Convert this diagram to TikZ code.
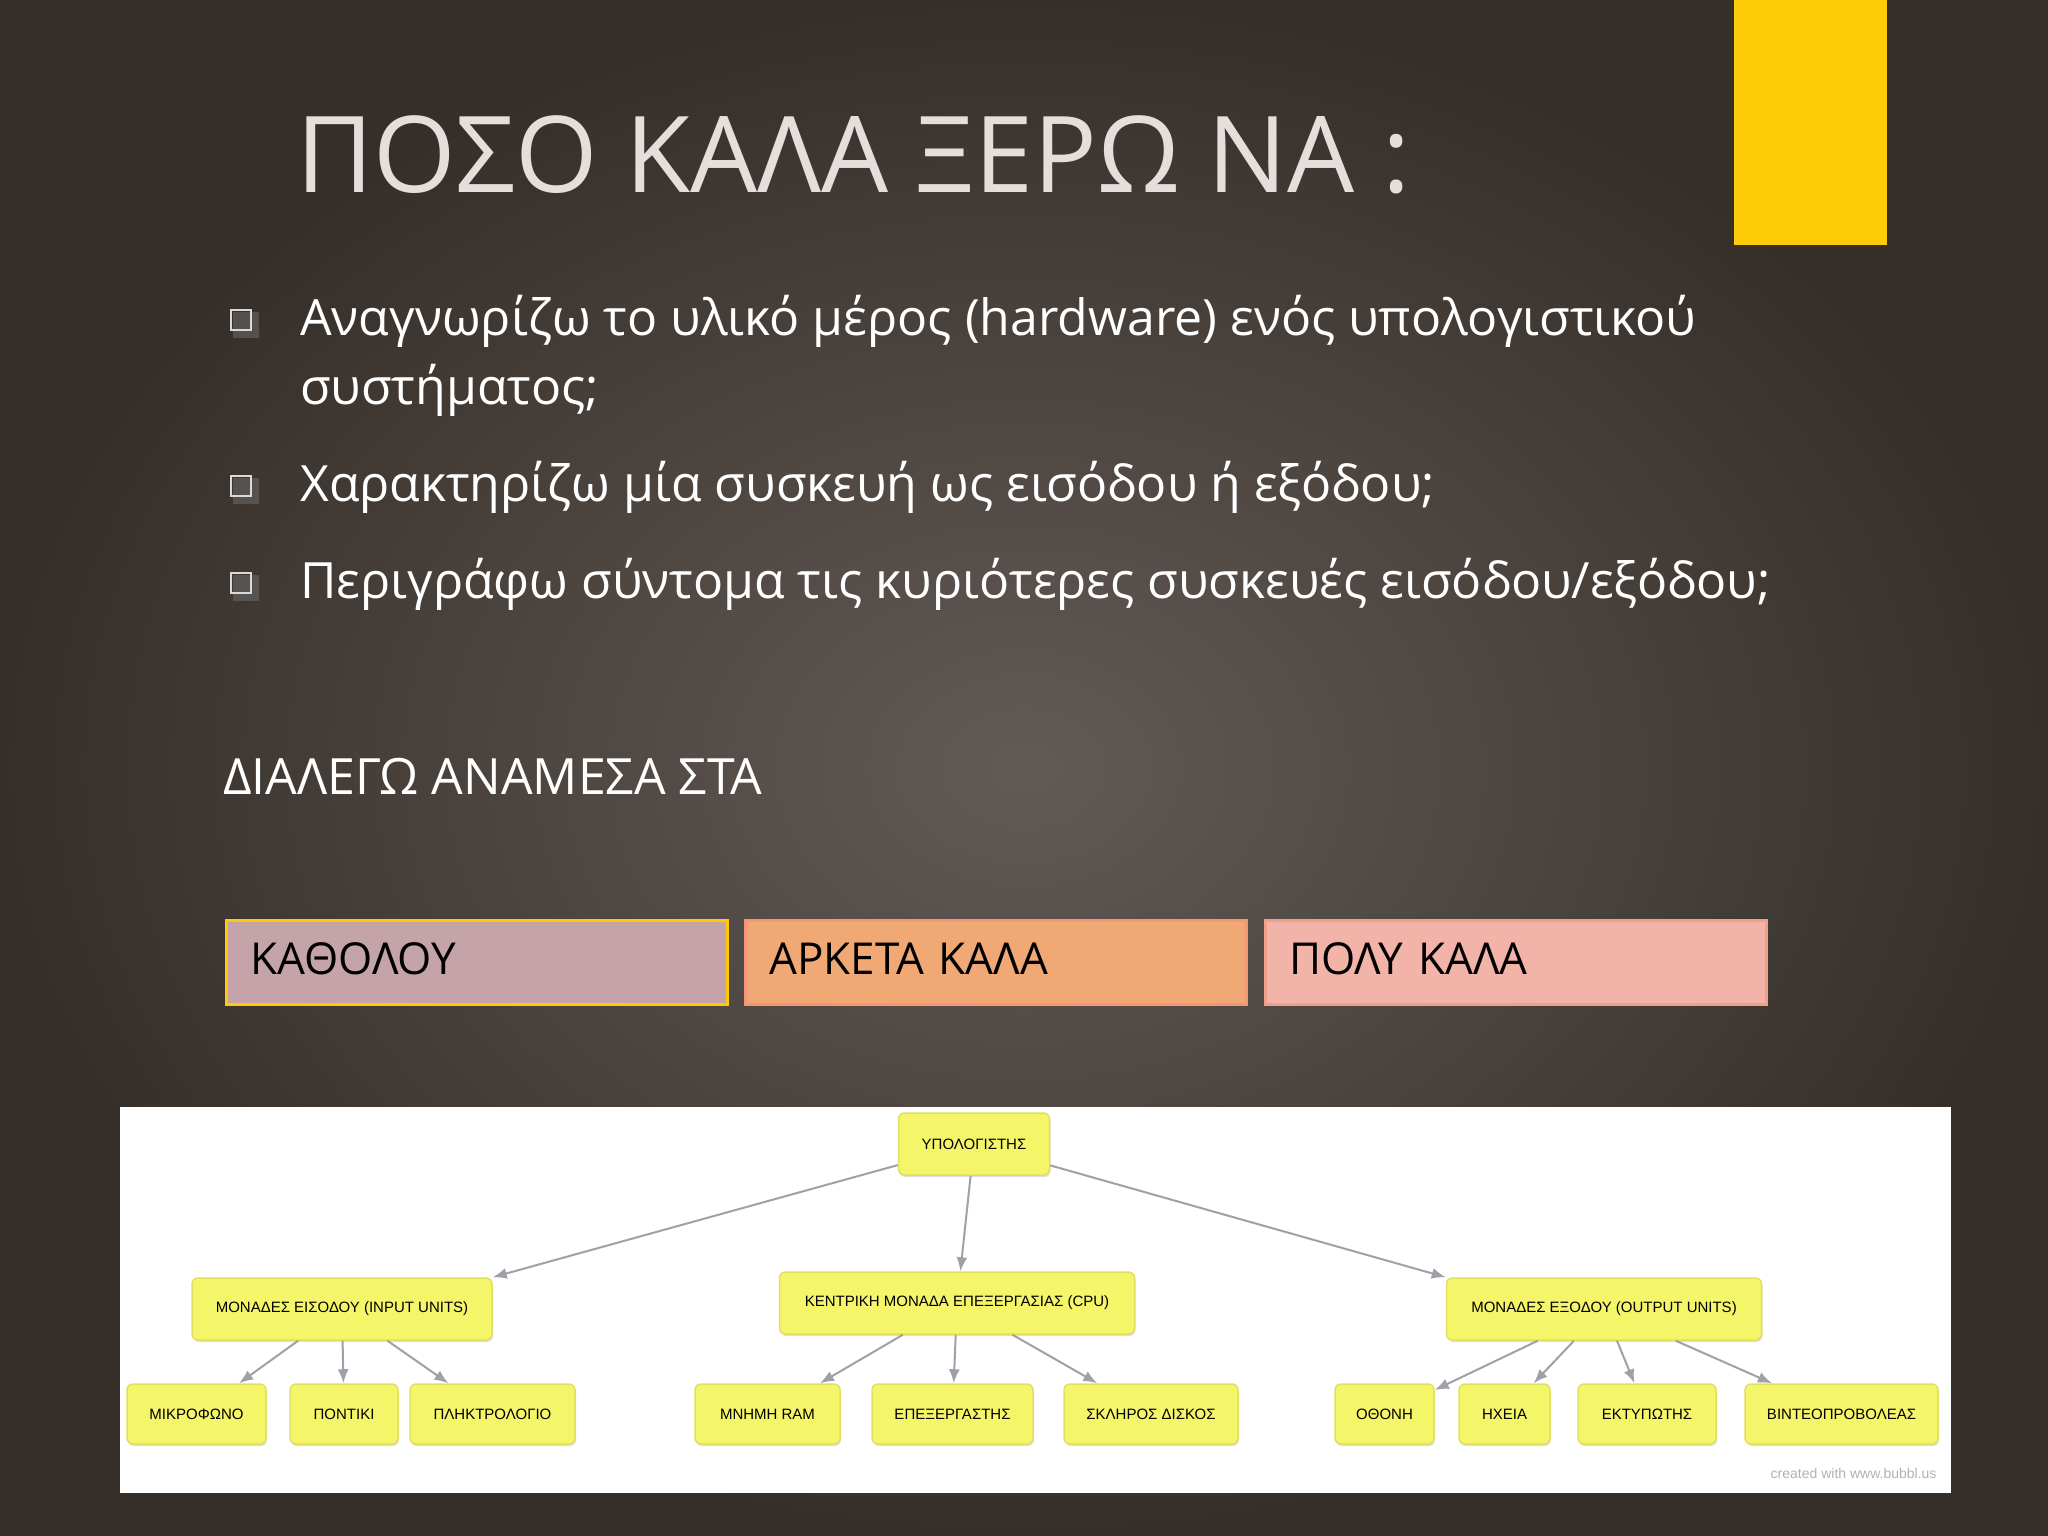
\documentclass[tikz,border=0pt]{standalone}
\usepackage{fontspec}
\setmainfont{Open Sans}
\newfontfamily\nodefont{Liberation Sans}
\usetikzlibrary{shadows,arrows.meta}
\definecolor{bgin}{HTML}{625A56}
\definecolor{bgout}{HTML}{362F29}
\definecolor{ttl}{HTML}{E6DEDC}
\definecolor{ylw}{HTML}{FFCC0A}
\definecolor{nodey}{HTML}{F5F56A}
\definecolor{nodeb}{HTML}{E0E060}
\definecolor{arr}{HTML}{A0A0A8}
\tikzset{
  txt/.style={anchor=base west,text=white,inner sep=0},
  choice/.style={minimum width=501pt,minimum height=84pt,line width=3pt,anchor=north west,text=black,font=\fontsize{44}{50}\selectfont,text width=453pt,align=left,inner xsep=24pt},
  mm/.style={draw=nodeb,fill=nodey,rounded corners=6pt,line width=1.5pt,font=\nodefont\fontsize{15}{17}\selectfont,drop shadow={shadow xshift=1pt,shadow yshift=-2pt,opacity=.25}},
  con/.style={draw=arr,line width=2pt,-{Latex[length=14pt,width=11pt]}},
  bul/.style={draw=white!85!black,line width=2pt,minimum size=20pt,inner sep=0}
}
\begin{document}
\begin{tikzpicture}[x=1pt,y=-1pt]
\useasboundingbox (0,0) rectangle (2048,1536);
\shade[inner color=bgin,outer color=bgout] (0,0) rectangle (2048,1536);
\fill[ylw] (1734,0) rectangle (1887,245);
\node[txt,text=ttl,font=\fontsize{106}{120}\selectfont] (title) at (296,192) {ΠΟΣΟ ΚΑΛΑ ΞΕΡΩ ΝΑ :};
\foreach \y/\n in {320/b1,486/b2,583/b3}{
  \fill[black!60,opacity=.6] (233,\y-8) rectangle (259,\y+18);
  \node[bul,anchor=north west] (\n) at (230,\y-11) {};
}
\node[txt,font=\fontsize{50}{68}\selectfont] (t1) at (300,335) {Αναγνωρίζω το υλικό μέρος (hardware) ενός υπολογιστικού};
\node[txt,font=\fontsize{50}{68}\selectfont] (t1b) at (300,404) {συστήματος;};
\node[txt,font=\fontsize{50}{68}\selectfont] (t2) at (300,501) {Χαρακτηρίζω μία συσκευή ως εισόδου ή εξόδου;};
\node[txt,font=\fontsize{50}{68}\selectfont] (t3) at (300,598) {Περιγράφω σύντομα τις κυριότερες συσκευές εισόδου/εξόδου;};
\node[txt,font=\fontsize{50}{60}\selectfont] (dia) at (223,794) {ΔΙΑΛΕΓΩ ΑΝΑΜΕΣΑ ΣΤΑ};
\node[choice,draw=ylw!95!orange,fill={rgb,255:red,196;green,164;blue,168}] (c1) at (225,919) {\raisebox{8pt}{ΚΑΘΟΛΟΥ}};
\node[choice,draw={rgb,255:red,243;green,150;blue,120},fill={rgb,255:red,240;green,168;blue,116}] (c2) at (744,919) {\raisebox{8pt}{ΑΡΚΕΤΑ ΚΑΛΑ}};
\node[choice,draw={rgb,255:red,240;green,160;blue,136},fill={rgb,255:red,242;green,180;blue,168}] (c3) at (1264,919) {\raisebox{8pt}{ΠΟΛΥ ΚΑΛΑ}};
\fill[white] (120,1107) rectangle (1951,1493);
\node[mm,minimum width=151pt,minimum height=62pt] (pc) at (974,1144) {ΥΠΟΛΟΓΙΣΤΗΣ};
\node[mm,minimum width=300pt,minimum height=62pt] (in) at (342,1309) {ΜΟΝΑΔΕΣ ΕΙΣΟΔΟΥ (INPUT UNITS)};
\node[mm,minimum width=355pt,minimum height=62pt] (cpu) at (957,1303) {ΚΕΝΤΡΙΚΗ ΜΟΝΑΔΑ ΕΠΕΞΕΡΓΑΣΙΑΣ (CPU)};
\node[mm,minimum width=315pt,minimum height=62pt] (out) at (1604,1309) {ΜΟΝΑΔΕΣ ΕΞΟΔΟΥ (OUTPUT UNITS)};
\foreach \n/\a/\b/\t in {l1/127/266/ΜΙΚΡΟΦΩΝΟ,l2/290/398/ΠΟΝΤΙΚΙ,l3/410/575/ΠΛΗΚΤΡΟΛΟΓΙΟ,l4/695/840/ΜΝΗΜΗ RAM,l5/872/1033/ΕΠΕΞΕΡΓΑΣΤΗΣ,l6/1064/1238/ΣΚΛΗΡΟΣ ΔΙΣΚΟΣ,l7/1335/1434/ΟΘΟΝΗ,l8/1459/1550/ΗΧΕΙΑ,l9/1578/1716/ΕΚΤΥΠΩΤΗΣ,l10/1745/1938/ΒΙΝΤΕΟΠΡΟΒΟΛΕΑΣ}{
  \node[mm,minimum width=\b pt-\a pt,minimum height=60pt] (\n) at ({(\a+\b)/2},1414) {\t};
}
\draw[con] (pc) -- (in.north east);
\draw[con] (pc) -- (cpu);
\draw[con] (pc) -- (out.north west);
\draw[con] (in) -- (l1);
\draw[con] (in) -- (l2);
\draw[con] (in) -- (l3);
\draw[con] (cpu) -- (l4);
\draw[con] (cpu) -- (l5);
\draw[con] (cpu) -- (l6);
\draw[con] (out) -- (l7);
\draw[con] (out) -- (l8);
\draw[con] (out) -- (l9);
\draw[con] (out) -- (l10);
\node[anchor=east,text=gray!60,font=\nodefont\fontsize{14}{16}\selectfont] (cr) at (1940,1473) {created with www.bubbl.us};
\end{tikzpicture}
\end{document}
